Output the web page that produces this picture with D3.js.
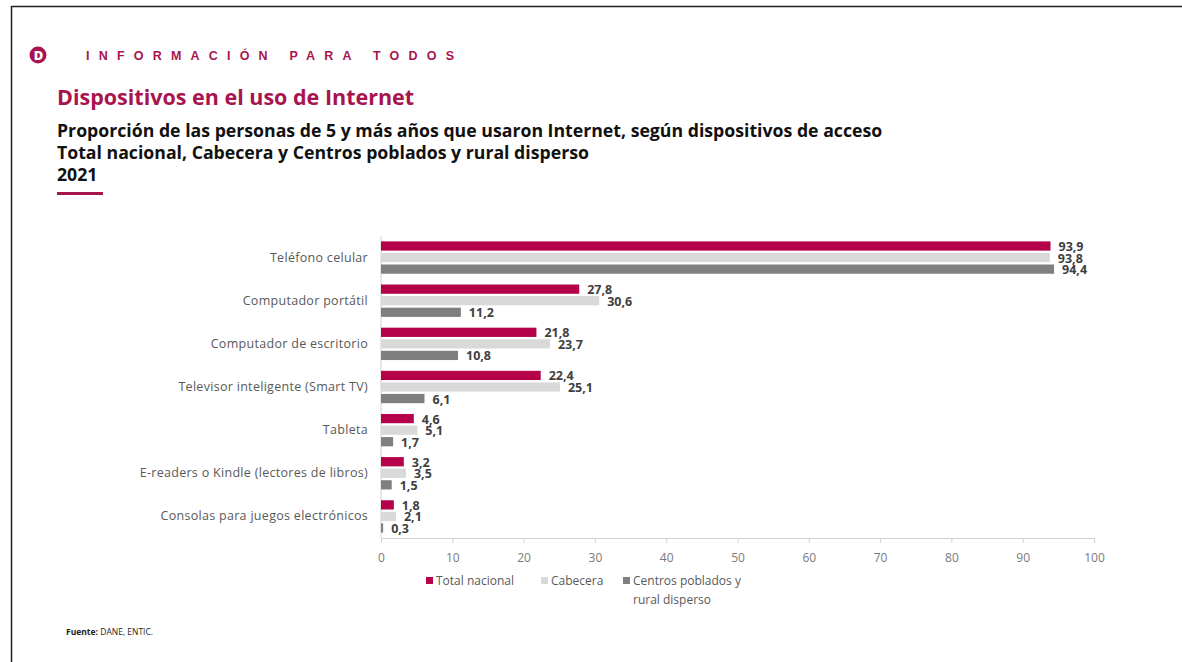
<!DOCTYPE html>
<html>
<head>
<meta charset="utf-8">
<script src="https://cdn.jsdelivr.net/npm/d3@7"></script>
<style>
  body { margin: 0; background: #fff; }
  svg { display: block; font-family: "Open Sans", "Noto Sans", sans-serif; }
</style>
</head>
<body>
<div id="chart"></div>
<script>
// Data
const categories = [
    "Teléfono celular",
    "Computador portátil",
    "Computador de escritorio",
    "Televisor inteligente (Smart TV)",
    "Tableta",
    "E-readers o Kindle (lectores de libros)",
    "Consolas para juegos electrónicos"
];
const seriesNames = ["Total nacional", "Cabecera", "Centros poblados y rural disperso"];
const totalNacional = [93.9, 27.8, 21.8, 22.4, 4.6, 3.2, 1.8];
const cabecera = [93.8, 30.6, 23.7, 25.1, 5.1, 3.5, 2.1];
const centrosPoblados = [94.4, 11.2, 10.8, 6.1, 1.7, 1.5, 0.3];
const xTicks = [0, 10, 20, 30, 40, 50, 60, 70, 80, 90, 100];

const colors = ["#b5004a", "#d9d9d9", "#7f7f7f"];
const crimson = "#a8144e";

drawChart();

function drawChart() {
    const W = 1182, H = 662;
    const svg = d3.select("#chart").append("svg")
        .attr("width", W)
        .attr("height", H);

    // Frame lines (top and left only, like the slide capture)
    svg.append("line").attr("x1", 11.5).attr("x2", W).attr("y1", 6.5).attr("y2", 6.5)
        .attr("stroke", "#222").attr("stroke-width", 1.5);
    svg.append("line").attr("x1", 11.5).attr("x2", 11.5).attr("y1", 6).attr("y2", H)
        .attr("stroke", "#222").attr("stroke-width", 1.5);

    // Header: logo + tagline
    svg.append("circle").attr("cx", 38).attr("cy", 55).attr("r", 8.5).attr("fill", crimson);
    svg.append("text")
        .attr("x", 38.5).attr("y", 60)
        .attr("text-anchor", "middle")
        .style("font-size", "13px").style("font-weight", "800").style("fill", "#fff")
        .text("D");
    svg.append("text")
        .attr("x", 86).attr("y", 60)
        .style("font-family", "\"Liberation Sans\", Arial, sans-serif")
        .style("font-size", "12.5px").style("font-weight", "700")
        .style("letter-spacing", "9.2px").style("fill", crimson)
        .text("INFORMACIÓN PARA TODOS");

    // Titles
    svg.append("text")
        .attr("x", 57).attr("y", 105)
        .style("font-size", "21.5px").style("font-weight", "700").style("fill", crimson)
        .text("Dispositivos en el uso de Internet");

    const subtitle = [
        "Proporción de las personas de 5 y más años que usaron Internet, según dispositivos de acceso",
        "Total nacional, Cabecera y Centros poblados y rural disperso",
        "2021"
    ];
    svg.selectAll(".subtitle")
        .data(subtitle)
        .enter()
        .append("text")
        .attr("class", "subtitle")
        .attr("x", 57)
        .attr("y", (d, i) => 137 + i * 22)
        .style("font-size", "17.7px").style("font-weight", "700").style("fill", "#111")
        .text(d => d);

    svg.append("rect").attr("x", 57).attr("y", 192).attr("width", 46).attr("height", 3)
        .attr("fill", crimson);

    // Scales
    const x = d3.scaleLinear().domain([0, 100]).range([381, 1094]);
    const y = d3.scaleBand()
        .domain(categories)
        .range([236, 538])
        .paddingInner(0.25)
        .paddingOuter(0.125);
    const ySub = d3.scaleBand()
        .domain(d3.range(3))
        .range([0, y.bandwidth()])
        .paddingInner(0.2);

    // Bottom axis
    const xAxis = svg.append("g")
        .attr("transform", "translate(0,538)")
        .call(d3.axisBottom(x).tickValues(xTicks).tickSize(5).tickPadding(10));
    xAxis.select(".domain").attr("stroke", "#d0d0d0");
    xAxis.selectAll(".tick line").attr("stroke", "#d0d0d0");
    xAxis.selectAll(".tick text")
        .style("font-size", "12px").style("fill", "#7a7a7a")
        .style("font-family", "\"Open Sans\", sans-serif");

    // Left axis with category labels
    const yAxis = svg.append("g")
        .attr("transform", "translate(381,0)")
        .call(d3.axisLeft(y).tickSize(0).tickPadding(13));
    yAxis.select(".domain").attr("stroke", "#d0d0d0").attr("d", "M0,236V538");
    yAxis.selectAll(".tick text")
        .style("font-size", "12.5px").style("fill", "#595959")
        .style("letter-spacing", "0.3px")
        .style("font-family", "\"Open Sans\", sans-serif");

    // Bars
    const series = [totalNacional, cabecera, centrosPoblados];
    const rows = [];
    series.forEach(function(vals, s) {
        vals.forEach(function(v, i) {
            rows.push({ cat: categories[i], s: s, value: v });
        });
    });

    svg.selectAll(".bar")
        .data(rows)
        .enter()
        .append("rect")
        .attr("class", "bar")
        .attr("x", x(0))
        .attr("y", d => y(d.cat) + ySub(d.s))
        .attr("width", d => x(d.value) - x(0))
        .attr("height", ySub.bandwidth())
        .attr("fill", d => colors[d.s]);

    // Value labels (they overlap a bit in the original too)
    svg.selectAll(".val")
        .data(rows)
        .enter()
        .append("text")
        .attr("class", "val")
        .attr("x", d => x(d.value) + 8)
        .attr("y", d => y(d.cat) + ySub(d.s) + ySub.bandwidth() / 2 + 5)
        .style("font-size", "12.5px").style("font-weight", "700").style("fill", "#404040")
        .text(d => d.value.toFixed(1).replace(".", ","));

    // Legend
    const legendX = [426, 541, 623];
    const legend = svg.selectAll(".legend")
        .data(seriesNames)
        .enter()
        .append("g")
        .attr("class", "legend")
        .attr("transform", (d, i) => `translate(${legendX[i]},581)`);
    legend.append("rect")
        .attr("x", 0).attr("y", -4).attr("width", 7).attr("height", 7)
        .attr("fill", (d, i) => colors[i]);
    legend.append("text")
        .attr("x", 10).attr("y", 4)
        .style("font-size", "12px").style("fill", "#595959")
        .each(function(d, i) {
            const t = d3.select(this);
            if (i === 2) {
                t.append("tspan").attr("x", 10).text("Centros poblados y");
                t.append("tspan").attr("x", 10).attr("dy", 19).text("rural disperso");
            } else {
                t.text(d);
            }
        });

    // Source
    const src = svg.append("text")
        .attr("x", 66).attr("y", 635)
        .style("font-size", "8.5px").style("fill", "#222");
    src.append("tspan").style("font-weight", "700").text("Fuente: ");
    src.append("tspan").text("DANE, ENTIC.");
}
</script>
</body>
</html>
